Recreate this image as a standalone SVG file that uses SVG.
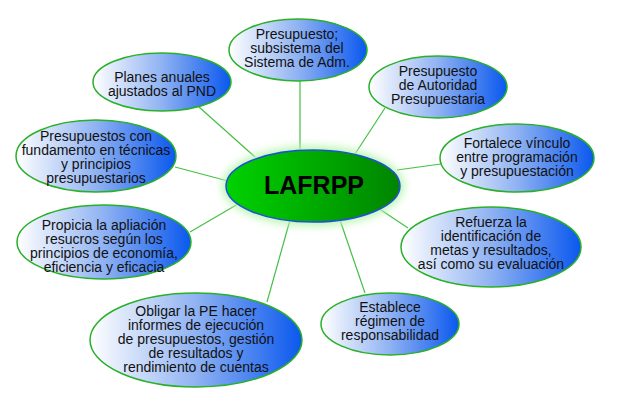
<svg xmlns="http://www.w3.org/2000/svg" width="624" height="408" viewBox="0 0 624 408">
<defs>
<linearGradient id="blue" x1="0" y1="0" x2="1" y2="0">
<stop offset="0" stop-color="#ffffff"/>
<stop offset="0.5" stop-color="#8fb2f2"/>
<stop offset="1" stop-color="#0a58ee"/>
</linearGradient>
<linearGradient id="green" x1="0" y1="0" x2="1" y2="0">
<stop offset="0" stop-color="#00d200"/>
<stop offset="1" stop-color="#008400"/>
</linearGradient>
<filter id="glow" x="-20%" y="-30%" width="140%" height="160%">
<feGaussianBlur stdDeviation="4"/>
</filter>
</defs>
<style>
.n{fill:url(#blue);stroke:#28b028;stroke-width:1.5}
.t{font-family:"Liberation Sans",Arial,sans-serif;font-size:14px;fill:#111;text-anchor:middle}
.c{stroke:#44c044;stroke-width:1.2;fill:none}
</style>
<rect width="624" height="408" fill="#ffffff"/>
<g id="connectors">
<line class="c" x1="300" y1="81" x2="300" y2="150"/>
<line class="c" x1="199" y1="107" x2="255" y2="157"/>
<line class="c" x1="385" y1="108" x2="355" y2="154"/>
<line class="c" x1="397" y1="170" x2="441" y2="164"/>
<line class="c" x1="175" y1="167" x2="228" y2="181"/>
<line class="c" x1="190" y1="232" x2="238" y2="204"/>
<line class="c" x1="267" y1="302" x2="290" y2="220"/>
<line class="c" x1="365" y1="293" x2="340" y2="220"/>
<line class="c" x1="408" y1="228" x2="378" y2="208"/>
</g>
<g id="center">
<ellipse cx="313" cy="186" rx="91" ry="40" fill="#b8f5b0" filter="url(#glow)"/>
<ellipse cx="313" cy="186" rx="87" ry="36" fill="url(#green)" stroke="#2050d8" stroke-width="1.5"/>
<text x="314" y="194" style="font-family:'Liberation Sans',Arial,sans-serif;font-size:25px;font-weight:bold;fill:#000;text-anchor:middle">LAFRPP</text>
</g>
<g id="n1">
<ellipse class="n" cx="298" cy="50" rx="69" ry="31"/>
<text class="t" x="297" y="39">Presupuesto;</text>
<text class="t" x="297" y="53">subsistema del</text>
<text class="t" x="297" y="67">Sistema de Adm.</text>
</g>
<g id="n2">
<ellipse class="n" cx="162" cy="82" rx="69" ry="29"/>
<text class="t" x="162" y="82">Planes anuales</text>
<text class="t" x="162" y="96">ajustados al PND</text>
</g>
<g id="n3">
<ellipse class="n" cx="438" cy="87" rx="69" ry="31"/>
<text class="t" x="438" y="76">Presupuesto</text>
<text class="t" x="438" y="90">de Autoridad</text>
<text class="t" x="438" y="104">Presupuestaria</text>
</g>
<g id="n4">
<ellipse class="n" cx="517" cy="158" rx="77" ry="34"/>
<text class="t" x="517" y="148">Fortalece vínculo</text>
<text class="t" x="517" y="162">entre programación</text>
<text class="t" x="517" y="176">y presupuestación</text>
</g>
<g id="n5">
<ellipse class="n" cx="96" cy="156" rx="80" ry="36"/>
<text class="t" x="96" y="141">Presupuestos con</text>
<text class="t" x="96" y="155">fundamento en técnicas</text>
<text class="t" x="96" y="169">y principios</text>
<text class="t" x="96" y="183">presupuestarios</text>
</g>
<g id="n6">
<ellipse class="n" cx="104" cy="242" rx="87" ry="37"/>
<text class="t" x="104" y="230">Propicia la apliación</text>
<text class="t" x="104" y="244">resucros según los</text>
<text class="t" x="104" y="258">principios de economía,</text>
<text class="t" x="104" y="272">eficiencia y eficacia</text>
</g>
<g id="n7">
<ellipse class="n" cx="196" cy="340" rx="106" ry="47" stroke-width="2.5"/>
<text class="t" x="196" y="316">Obligar la PE hacer</text>
<text class="t" x="196" y="330">informes de ejecución</text>
<text class="t" x="196" y="344">de presupuestos, gestión</text>
<text class="t" x="196" y="358">de resultados y</text>
<text class="t" x="196" y="372">rendimiento de cuentas</text>
</g>
<g id="n8">
<ellipse class="n" cx="390" cy="324" rx="69" ry="31"/>
<text class="t" x="390" y="312">Establece</text>
<text class="t" x="390" y="326">régimen de</text>
<text class="t" x="390" y="340">responsabilidad</text>
</g>
<g id="n9">
<ellipse class="n" cx="491" cy="247" rx="90" ry="40"/>
<text class="t" x="491" y="227">Refuerza la</text>
<text class="t" x="491" y="241">identificación de</text>
<text class="t" x="491" y="255">metas y resultados,</text>
<text class="t" x="491" y="269">así como su evaluación</text>
</g>
</svg>
